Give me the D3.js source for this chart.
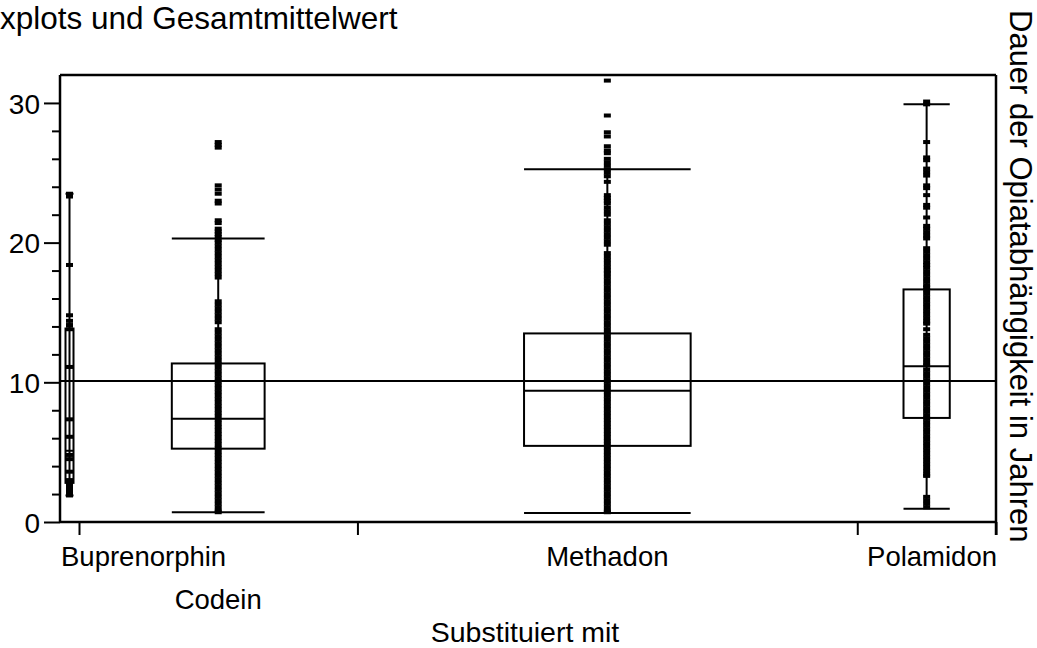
<!DOCTYPE html>
<html>
<head>
<meta charset="utf-8">
<script src="https://cdn.jsdelivr.net/npm/d3@7"></script>
<style>
  html, body { margin: 0; padding: 0; background: #fff; }
  svg { display: block; }
  text { font-family: "Liberation Sans", Arial, sans-serif; fill: #000; }
</style>
</head>
<body>
<svg id="chart" width="1037" height="648"></svg>
<script>
// Duration of opiate dependence (years) by substitution drug
const categories = ["Buprenorphin", "Codein", "Methadon", "Polamidon"];
const labelRow = [0, 1, 0, 0];
const groupN = [20, 293, 526, 146];

const q1 = [2.8, 5.25, 5.45, 7.45];
const median = [5.1, 7.4, 9.4, 11.15];
const q3 = [13.85, 11.35, 13.5, 16.65];
const whiskerLo = [1.9, 0.7, 0.65, 0.95];
const whiskerHi = [23.5, 20.3, 25.25, 29.9];
const grandMean = 10.1;

const yMajorTicks = [0, 10, 20, 30];
const yMinorTicks = [2, 4, 6, 8, 12, 14, 16, 18, 22, 24, 26, 28];

const ptsBuprenorphin = [23.5, 23.3, 18.4, 14.8, 14.4, 14.1, 13.8, 11.1, 7.35, 6.1,
  4.8, 4.5, 3.6, 3.0, 2.8, 2.6, 2.4, 2.2, 2.0, 1.9];

const ptsCodein = [27.2, 27.0, 26.8, 24.1, 23.8, 23.5, 23.0, 22.8, 21.6, 21.4, 21.0, 20.8,
  20.6, 20.4, 20.2, 20.0, 19.75, 19.5, 19.25, 19.0, 18.75, 18.5, 18.25, 18.0, 17.75, 17.5,
  15.8, 15.55, 15.3, 15.05, 14.8, 14.55, 14.3, 13.8, 13.55, 13.3, 13.05, 12.8, 12.55, 12.3,
  12.05, 11.8, 11.55, 11.3, 11.05, 10.8, 10.55, 10.3, 10.05, 9.8, 9.55, 9.3, 9.05, 8.8,
  8.55, 8.3, 8.05, 7.8, 7.55, 7.3, 7.05, 6.8, 6.55, 6.3, 6.05, 5.8, 5.55, 5.3, 5.05, 4.8,
  4.55, 4.3, 4.05, 3.8, 3.55, 3.3, 3.05, 2.8, 2.55, 2.3, 2.05, 1.8, 1.55, 1.3, 1.05, 0.8, 0.7];

const ptsMethadon = [31.6, 29.1, 27.9, 27.6, 26.9, 26.6, 26.4, 26.0, 25.75, 25.5, 25.25,
  25.0, 24.75, 24.35, 23.4, 23.2, 23.0, 22.8, 22.5, 22.25, 22.0, 21.6, 21.35, 21.1, 20.85,
  20.6, 20.35, 20.1, 19.85, 19.25, 19.0, 18.75, 18.5, 18.25, 18.0, 17.8, 17.55, 17.3, 17.05,
  16.8, 16.55, 16.3, 16.05, 15.8, 15.55, 15.3, 15.05, 14.8, 14.55, 14.3, 14.05, 13.8, 13.55,
  13.3, 13.05, 12.8, 12.55, 12.3, 12.05, 11.8, 11.55, 11.3, 11.05, 10.8, 10.55, 10.3, 10.05,
  9.8, 9.55, 9.3, 9.05, 8.8, 8.55, 8.3, 8.05, 7.8, 7.55, 7.3, 7.05, 6.8, 6.55, 6.3, 6.05,
  5.8, 5.55, 5.3, 5.05, 4.8, 4.55, 4.3, 4.05, 3.8, 3.55, 3.3, 3.05, 2.8, 2.55, 2.3, 2.05,
  1.8, 1.55, 1.3, 1.05, 0.8, 0.7];

const ptsPolamidon = [30.1, 29.9, 27.2, 26.1, 25.9, 25.3, 25.05, 24.8, 24.1, 23.9, 23.4,
  22.7, 22.5, 21.8, 21.2, 21.0, 20.75, 20.5, 20.3, 19.6, 19.35, 19.1, 18.85, 18.6, 18.4,
  18.2, 17.95, 17.7, 17.45, 17.2, 16.95, 16.8, 16.6, 16.35, 16.1, 15.85, 15.6, 15.35, 15.1,
  14.85, 14.6, 14.35, 14.2, 13.8, 13.4, 13.15, 12.9, 12.65, 12.4, 12.15, 11.9, 11.65, 11.4,
  11.2, 10.9, 10.65, 10.4, 10.15, 9.9, 9.65, 9.4, 9.15, 8.9, 8.65, 8.4, 8.15, 7.9, 7.65,
  7.4, 7.15, 6.9, 6.65, 6.4, 6.15, 5.9, 5.65, 5.4, 5.15, 4.9, 4.65, 4.4, 4.15, 3.9, 3.65,
  3.4, 3.3, 1.8, 1.55, 1.3, 1.05];

const groupPoints = [ptsBuprenorphin, ptsCodein, ptsMethadon, ptsPolamidon];

const titleText = "xplots und Gesamtmittelwert";
const xTitle = "Substituiert mit";
const yTitle = "Dauer der Opiatabhängigkeit in Jahren";

// ---- layout ----
const plot = { left: 60, right: 996, top: 75, bottom: 522 };
const svg = d3.select("#chart");

const y = d3.scaleLinear().domain([0, 32]).range([plot.bottom, plot.top]);

// x axis is divided into segments proportional to each group's size
const cum = d3.cumsum(groupN);
const starts = [0, ...cum.slice(0, -1)];
const x = d3.scaleLinear().domain([0, d3.sum(groupN)]).range([plot.left, plot.right]);

const groups = categories.map((c, i) => {
  const x0 = x(starts[i]), x1 = x(cum[i]);
  const cx = (x0 + x1) / 2;
  const w = Math.max((x1 - x0) / 3, 8);
  return { name: c, i, x0, x1, cx, w };
});

const ink = "#000";

// title
svg.append("text").attr("x", 0).attr("y", 29)
  .style("font-size", "31.5px").text(titleText);

// frame: left, top, right, bottom
const frame = svg.append("g").attr("stroke", ink).attr("stroke-width", 2.5).attr("fill", "none");
frame.append("line").attr("x1", plot.left).attr("x2", plot.left).attr("y1", plot.top).attr("y2", plot.bottom);
frame.append("line").attr("x1", plot.left).attr("x2", plot.right).attr("y1", plot.top).attr("y2", plot.top);
frame.append("line").attr("x1", plot.right).attr("x2", plot.right).attr("y1", plot.top).attr("y2", plot.bottom + 13);
frame.append("line").attr("x1", plot.left).attr("x2", plot.right).attr("y1", plot.bottom).attr("y2", plot.bottom);

// y axis (left)
const yAxis = d3.axisLeft(y).tickValues(yMajorTicks).tickSize(16).tickPadding(4).tickFormat(d3.format("d"));
const gy = svg.append("g").attr("transform", `translate(${plot.left},0)`).call(yAxis);
gy.select(".domain").remove();
gy.selectAll(".tick line").attr("stroke", ink).attr("stroke-width", 2);
gy.selectAll(".tick text").style("font-size", "28px").attr("dy", "0.36em").attr("font-family", null);

const yMinor = d3.axisLeft(y).tickValues(yMinorTicks).tickSize(8).tickFormat("");
const gym = svg.append("g").attr("transform", `translate(${plot.left},0)`).call(yMinor);
gym.select(".domain").remove();
gym.selectAll(".tick line").attr("stroke", ink).attr("stroke-width", 2);

// x axis ticks at segment boundaries
const xAxis = d3.axisBottom(x).tickValues(cum).tickSize(13).tickFormat("");
const gx = svg.append("g").attr("transform", `translate(0,${plot.bottom})`).call(xAxis);
gx.select(".domain").remove();
gx.selectAll(".tick line").attr("stroke", ink).attr("stroke-width", 2);

// category labels (two staggered rows)
const rowY = [566, 609];
svg.append("g").selectAll("text").data(groups).join("text")
  .attr("x", d => d.i === 0 ? plot.left + 1 : (d.i === categories.length - 1 ? plot.right + 1 : d.cx))
  .attr("y", d => rowY[labelRow[d.i]])
  .attr("text-anchor", d => d.i === 0 ? "start" : (d.i === categories.length - 1 ? "end" : "middle"))
  .style("font-size", "27.5px")
  .text(d => d.name);

// axis titles
svg.append("text").attr("x", (plot.left + plot.right) / 2 - 3).attr("y", 642)
  .attr("text-anchor", "middle").style("font-size", "28.5px").text(xTitle);
svg.append("text").attr("transform", "translate(1010,10) rotate(90)")
  .attr("text-anchor", "start").style("font-size", "31px").text(yTitle);

// boxes, whiskers and caps
const gb = svg.append("g").attr("stroke", ink).attr("stroke-width", 2).attr("fill", "none");
groups.forEach(g => {
  const i = g.i;
  gb.append("line").attr("x1", g.cx).attr("x2", g.cx).attr("y1", y(whiskerLo[i])).attr("y2", y(whiskerHi[i]));
  gb.append("line").attr("x1", g.cx - g.w / 2).attr("x2", g.cx + g.w / 2).attr("y1", y(whiskerLo[i])).attr("y2", y(whiskerLo[i]));
  gb.append("line").attr("x1", g.cx - g.w / 2).attr("x2", g.cx + g.w / 2).attr("y1", y(whiskerHi[i])).attr("y2", y(whiskerHi[i]));
  gb.append("rect").attr("x", g.cx - g.w / 2).attr("width", g.w)
    .attr("y", y(q3[i])).attr("height", y(q1[i]) - y(q3[i]));
  gb.append("line").attr("x1", g.cx - g.w / 2).attr("x2", g.cx + g.w / 2).attr("y1", y(median[i])).attr("y2", y(median[i]));
});

// grand mean line
svg.append("line").attr("x1", plot.left).attr("x2", plot.right)
  .attr("y1", y(grandMean)).attr("y2", y(grandMean))
  .attr("stroke", ink).attr("stroke-width", 2);

// individual observations
const mw = 7, mh = 4;
groups.forEach(g => {
  svg.append("g").selectAll("rect").data(groupPoints[g.i]).join("rect")
    .attr("x", g.cx - mw / 2).attr("y", d => y(d) - mh / 2)
    .attr("width", mw).attr("height", mh).attr("fill", ink);
});
</script>
</body>
</html>
